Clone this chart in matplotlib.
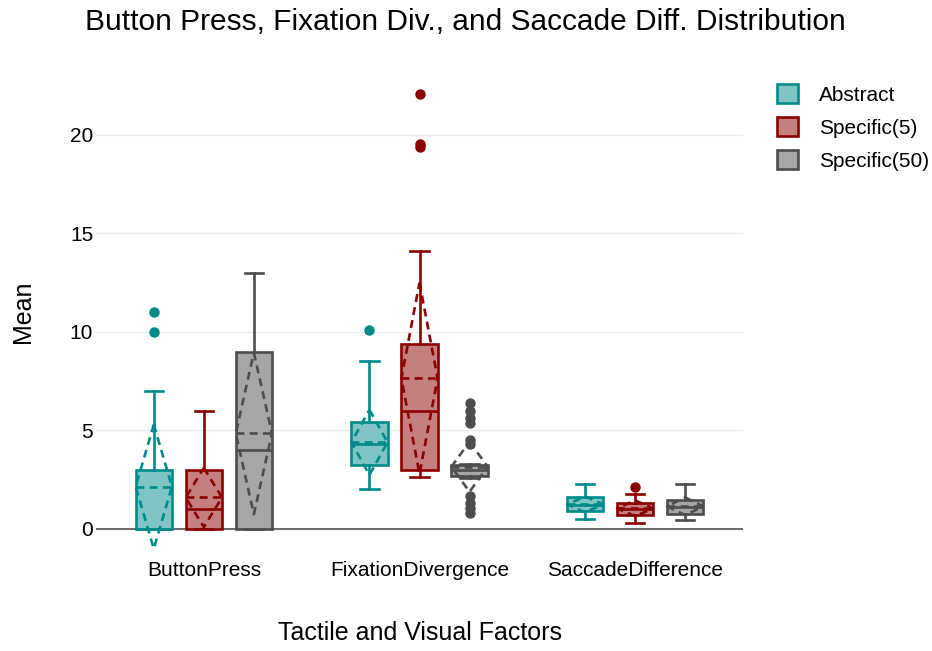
import numpy as np
import matplotlib.pyplot as plt
from matplotlib.patches import Patch

plt.rcParams['font.family'] = ['Liberation Sans', 'DejaVu Sans']

factors = ['ButtonPress', 'FixationDivergence', 'SaccadeDifference']
groups = ['Abstract', 'Specific(5)', 'Specific(50)']
line_colors = ['#008b8b', '#8b0000', '#4d4d4d']
fill_colors = ['#7fc5c5', '#c57f7f', '#a6a6a6']

# box statistics per group, one value per factor
q1 = {
    'Abstract': [0, 3.25, 0.9],
    'Specific(5)': [0, 3.0, 0.7],
    'Specific(50)': [0, 2.7, 0.75],
}
median = {
    'Abstract': [0, 4.3, 1.2],
    'Specific(5)': [1, 6.0, 1.0],
    'Specific(50)': [4, 3.0, 1.1],
}
q3 = {
    'Abstract': [3, 5.45, 1.6],
    'Specific(5)': [3, 9.4, 1.3],
    'Specific(50)': [9, 3.25, 1.45],
}
whislo = {
    'Abstract': [0, 2.05, 0.5],
    'Specific(5)': [0, 2.65, 0.3],
    'Specific(50)': [0, 2.6, 0.45],
}
whishi = {
    'Abstract': [7, 8.55, 2.3],
    'Specific(5)': [6, 14.1, 1.8],
    'Specific(50)': [13, 3.3, 2.3],
}
means = {
    'Abstract': [2.15, 4.4, 1.25],
    'Specific(5)': [1.6, 7.65, 1.05],
    'Specific(50)': [4.85, 3.16, 1.15],
}
sds = {
    'Abstract': [3.15, 1.65, 0.4],
    'Specific(5)': [1.5, 4.85, 0.4],
    'Specific(50)': [4.1, 1.27, 0.45],
}
outliers = {
    'Abstract': [[10, 11], [10.1], []],
    'Specific(5)': [[], [19.4, 19.55, 22.1], [2.15]],
    'Specific(50)': [[], [6.4, 6.0, 5.65, 5.4, 4.5, 4.3, 1.65, 1.3, 1.05, 0.8], []],
}

fig = plt.figure(figsize=(9.32, 6.51), dpi=100)
ax = fig.add_axes([96 / 932, 1 - 555 / 651, (743 - 96) / 932, (555 - 68) / 651])

offset = 0.232
width = 0.168

for gi, g in enumerate(groups):
    lc = line_colors[gi]
    fc = fill_colors[gi]
    pos = np.arange(len(factors)) + (gi - 1) * offset
    stats = []
    for fi in range(len(factors)):
        stats.append(dict(q1=q1[g][fi], med=median[g][fi], q3=q3[g][fi],
                          whislo=whislo[g][fi], whishi=whishi[g][fi],
                          fliers=outliers[g][fi], mean=means[g][fi]))
    ax.bxp(stats, positions=pos, widths=width, capwidths=width / 2,
           patch_artist=True, showmeans=False,
           boxprops=dict(facecolor=fc, edgecolor=lc, linewidth=1.9),
           medianprops=dict(color=lc, linewidth=1.9),
           whiskerprops=dict(color=lc, linewidth=1.9),
           capprops=dict(color=lc, linewidth=1.9),
           flierprops=dict(marker='o', markerfacecolor=lc, markeredgecolor=lc,
                           markersize=6.5, linestyle='none'),
           zorder=3)
    # mean line and sd diamond
    for fi in range(len(factors)):
        x = pos[fi]
        m = means[g][fi]
        s = sds[g][fi]
        ax.plot([x - width / 2, x + width / 2], [m, m], color=lc, lw=1.9,
                ls=(0, (3, 2)), zorder=4)
        ax.plot([x, x + width / 2, x, x - width / 2, x],
                [m + s, m, m - s, m, m + s], color=lc, lw=1.9,
                ls=(0, (3, 2)), zorder=4)

ax.set_xlim(-0.5, 2.5)
ax.set_ylim(-1.32, 23.4)
ax.set_xticks(range(len(factors)))
ax.set_xticklabels(factors, fontsize=15)
ax.set_yticks([0, 5, 10, 15, 20])
ax.set_yticklabels(['0', '5', '10', '15', '20'], fontsize=15)
ax.tick_params(length=0)
ax.tick_params(axis='y', pad=2)
ax.tick_params(axis='x', pad=4)
for sp in ax.spines.values():
    sp.set_visible(False)
ax.grid(axis='y', color='#ebebeb', linewidth=1, zorder=0)
ax.axhline(0, color='#555555', linewidth=1.2, zorder=1)
ax.set_axisbelow(True)

ax.set_xlabel('Tactile and Visual Factors', fontsize=18, labelpad=30)
ax.set_ylabel('Mean', fontsize=18, labelpad=25)
fig.suptitle('Button Press, Fixation Div., and Saccade Diff. Distribution',
             fontsize=21.5, x=465 / 932, y=1 - 22 / 651, va='center')

handles = [Patch(facecolor=fill_colors[i], edgecolor=line_colors[i], linewidth=1.9)
           for i in range(len(groups))]
fig.legend(handles, groups, loc='upper left', bbox_to_anchor=(767 / 932, 1 - 74 / 651),
           frameon=False, fontsize=15, handlelength=1.0, handleheight=1.0,
           handletextpad=1.0, labelspacing=0.6, borderpad=0)

fig.savefig('out.png', dpi=100)
